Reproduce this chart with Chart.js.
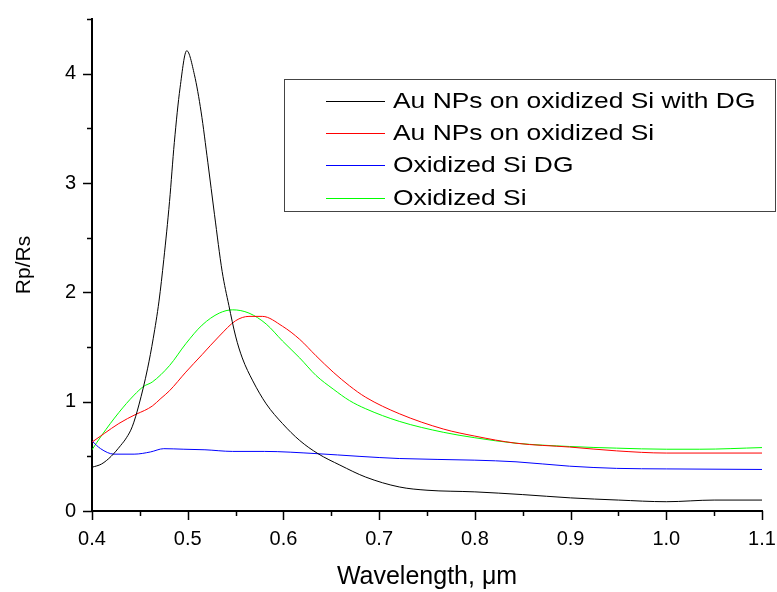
<!DOCTYPE html>
<html>
<head>
<meta charset="utf-8">
<script src="https://cdn.jsdelivr.net/npm/chart.js@4.4.1/dist/chart.umd.min.js"></script>
<style>
  html, body { margin: 0; padding: 0; background: #fff; }
  #wrap { position: relative; width: 777px; height: 592px; overflow: hidden; }
  #legend {
    position: absolute; left: 284px; top: 79px; width: 490px; height: 131px;
    border: 1px solid #444;
    font-family: 'Liberation Sans', Arial, sans-serif; font-size: 22px; color: #000;
  }
  #legend .row { position: absolute; left: 0; height: 32px; width: 100%; }
  #legend .swatch { position: absolute; left: 41px; top: 16px; width: 59px; height: 1px; }
  #legend .name { position: absolute; left: 108px; top: 0; line-height: 32px; white-space: nowrap;
    transform: scaleX(1.2); transform-origin: left center; }
</style>
</head>
<body>
<div id="wrap">
  <canvas id="chart" width="777" height="592"></canvas>
  <div id="legend"></div>
</div>
<script>
// Au NPs on oxidized Si with DG
const wlBlack = [0.400, 0.410, 0.420, 0.430, 0.436, 0.442, 0.449, 0.458, 0.464, 0.470, 0.475, 0.481, 0.486, 0.492, 0.499, 0.507, 0.514, 0.521, 0.528, 0.536, 0.543, 0.550, 0.557, 0.568, 0.582, 0.599, 0.617, 0.636, 0.659, 0.686, 0.721, 0.750, 0.800, 0.850, 0.900, 0.950, 1.000, 1.050, 1.100];
const valBlack = [0.40, 0.43, 0.50, 0.60, 0.67, 0.77, 0.97, 1.30, 1.58, 1.92, 2.30, 2.83, 3.37, 3.87, 4.21, 3.99, 3.65, 3.19, 2.71, 2.19, 1.88, 1.60, 1.40, 1.19, 0.98, 0.80, 0.645, 0.525, 0.42, 0.31, 0.22, 0.19, 0.175, 0.15, 0.12, 0.10, 0.085, 0.10, 0.10];

// Au NPs on oxidized Si
const wlRed = [0.400, 0.413, 0.428, 0.446, 0.455, 0.463, 0.472, 0.481, 0.498, 0.515, 0.533, 0.550, 0.564, 0.578, 0.599, 0.617, 0.634, 0.652, 0.669, 0.686, 0.721, 0.767, 0.800, 0.843, 0.899, 0.948, 1.000, 1.100];
const valRed = [0.63, 0.71, 0.80, 0.885, 0.92, 0.96, 1.03, 1.10, 1.27, 1.43, 1.60, 1.74, 1.78, 1.78, 1.69, 1.57, 1.42, 1.27, 1.145, 1.04, 0.89, 0.75, 0.685, 0.62, 0.585, 0.55, 0.53, 0.53];

// Oxidized Si DG
const wlBlue = [0.400, 0.409, 0.423, 0.444, 0.461, 0.475, 0.496, 0.518, 0.547, 0.580, 0.634, 0.679, 0.721, 0.800, 0.843, 0.899, 0.948, 1.000, 1.100];
const valBlue = [0.64, 0.57, 0.52, 0.52, 0.54, 0.57, 0.565, 0.56, 0.545, 0.545, 0.525, 0.50, 0.48, 0.465, 0.45, 0.41, 0.39, 0.385, 0.38];

// Oxidized Si
const wlGreen = [0.400, 0.410, 0.428, 0.444, 0.454, 0.463, 0.481, 0.498, 0.515, 0.533, 0.547, 0.564, 0.582, 0.599, 0.617, 0.634, 0.652, 0.669, 0.686, 0.721, 0.767, 0.800, 0.843, 0.899, 0.948, 1.000, 1.035, 1.100];
const valGreen = [0.56, 0.69, 0.90, 1.06, 1.14, 1.18, 1.33, 1.53, 1.70, 1.81, 1.84, 1.81, 1.71, 1.555, 1.40, 1.24, 1.115, 1.01, 0.935, 0.82, 0.72, 0.67, 0.62, 0.59, 0.575, 0.565, 0.565, 0.58];

const seriesNames = ['Au NPs on oxidized Si with DG', 'Au NPs on oxidized Si', 'Oxidized Si DG', 'Oxidized Si'];
const seriesColors = ['#000000', '#ff0000', '#0000ff', '#00ff00'];
const legendRowTops = [5, 37, 69, 102];
const xTicks = [0.4, 0.5, 0.6, 0.7, 0.8, 0.9, 1.0, 1.1];
const yTicks = [0, 1, 2, 3, 4];

const FONT = "'Liberation Sans', Arial, sans-serif";
const pts = (xs, ys) => xs.map((x, i) => ({ x, y: ys[i] }));
const allSeries = [pts(wlBlack, valBlack), pts(wlRed, valRed), pts(wlBlue, valBlue), pts(wlGreen, valGreen)];

// major/minor tick marks drawn outward from the axes
const tickMarks = {
  id: 'tickMarks',
  afterDraw(chart) {
    const { ctx, chartArea, scales } = chart;
    ctx.save();
    ctx.strokeStyle = '#000';
    ctx.lineWidth = 1.5;
    for (let v = 0; v <= 4.5 + 1e-9; v += 0.5) {
      const y = Math.round(scales.y.getPixelForValue(v)) + 0.5;
      const len = Math.abs(v - Math.round(v)) < 1e-6 ? 9 : 5;
      ctx.beginPath(); ctx.moveTo(chartArea.left, y); ctx.lineTo(chartArea.left - len, y); ctx.stroke();
    }
    for (let k = 0; k <= 14; k++) {
      const v = 0.4 + k * 0.05;
      const x = Math.round(scales.x.getPixelForValue(v)) + 0.5;
      const len = k % 2 === 0 ? 9 : 5;
      ctx.beginPath(); ctx.moveTo(x, chartArea.bottom); ctx.lineTo(x, chartArea.bottom + len); ctx.stroke();
    }
    ctx.restore();
  }
};

new Chart(document.getElementById('chart'), {
  type: 'line',
  data: {
    datasets: allSeries.map((d, i) => ({
      label: seriesNames[i],
      data: d,
      borderColor: seriesColors[i],
      borderWidth: 1,
      pointRadius: 0,
      cubicInterpolationMode: 'monotone',
      fill: false
    }))
  },
  options: {
    responsive: false,
    animation: false,
    layout: { autoPadding: false, padding: { top: 15, right: 15, left: 0, bottom: 0 } },
    plugins: { legend: { display: false }, tooltip: { enabled: false } },
    scales: {
      x: {
        type: 'linear', min: 0.4, max: 1.1,
        afterBuildTicks: s => { s.ticks = xTicks.map(v => ({ value: v })); },
        afterFit: s => {
          s.height = 81;
          // let the last label hang over the edge, as in the original
          s.paddingLeft = 0; s.paddingRight = 0;
          if (s._margins) { s._margins.left = 0; s._margins.right = 0; }
        },
        ticks: { color: '#000', font: { family: FONT, size: 20 }, padding: 7, maxRotation: 0, autoSkip: false,
          callback: v => v.toFixed(1) },
        grid: { display: true, drawOnChartArea: false, drawTicks: true, tickLength: 9, color: 'rgba(0,0,0,0)' },
        border: { display: true, color: '#000', width: 2 },
        title: { display: true, text: 'Wavelength, μm', color: '#000', font: { family: FONT, size: 25 }, padding: { top: 0, bottom: 0 } }
      },
      y: {
        type: 'linear', min: 0, max: 4.5,
        afterBuildTicks: s => { s.ticks = yTicks.map(v => ({ value: v })); },
        afterFit: s => { s.width = 92; },
        ticks: { color: '#000', font: { family: FONT, size: 20 }, padding: 7, autoSkip: false,
          callback: v => String(v) },
        grid: { display: true, drawOnChartArea: false, drawTicks: true, tickLength: 9, color: 'rgba(0,0,0,0)' },
        border: { display: true, color: '#000', width: 2 },
        title: { display: true, text: 'Rp/Rs', color: '#000', font: { family: FONT, size: 21 }, padding: { top: 12, bottom: 0 } }
      }
    }
  },
  plugins: [tickMarks]
});

const legend = document.getElementById('legend');
seriesNames.forEach((name, i) => {
  const row = document.createElement('div');
  row.className = 'row';
  row.style.top = legendRowTops[i] + 'px';
  row.innerHTML = `<div class="swatch" style="background:${seriesColors[i]}"></div><span class="name">${name}</span>`;
  legend.appendChild(row);
});
</script>
</body>
</html>
